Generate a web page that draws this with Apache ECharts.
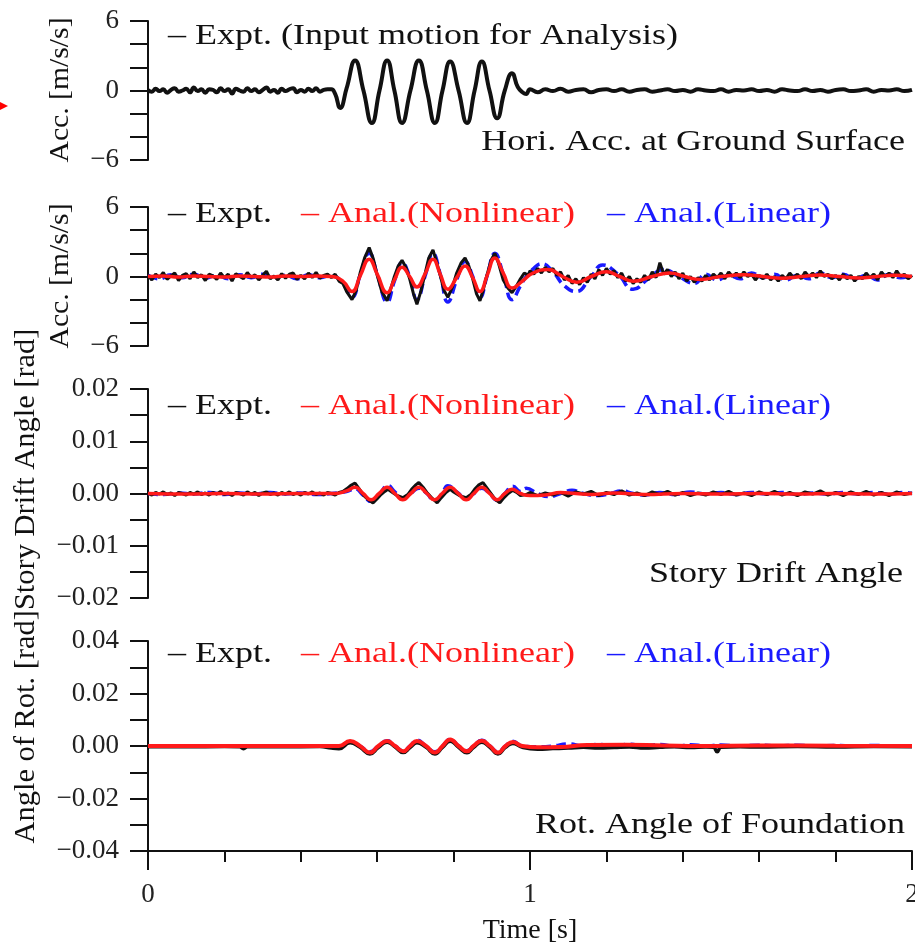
<!DOCTYPE html>
<html>
<head>
<meta charset="utf-8">
<script src="https://cdn.jsdelivr.net/npm/echarts@6/dist/echarts.min.js"></script>
<style>
html,body{margin:0;padding:0;background:#fff;}
#chart{width:915px;height:945px;}
</style>
</head>
<body>
<div id="chart"></div>
<script>
// ---------- DATA ----------
// Panel 1: Horizontal acceleration at ground surface [m/s/s]
const accGround = [
[0,0.05],[0.01,-0.10],[0.02,0.15],[0.03,-0.05],[0.04,0.10],[0.05,-0.20],[0.06,0.05],[0.07,0.20],[0.08,-0.10],[0.09,0.00],
[0.10,0.15],[0.11,-0.15],[0.12,0.25],[0.13,-0.05],[0.14,0.10],[0.15,-0.20],[0.16,0.10],[0.17,0.05],[0.18,-0.15],[0.19,0.20],
[0.20,-0.05],[0.21,0.10],[0.22,-0.25],[0.23,0.15],[0.24,0.00],[0.25,-0.10],[0.26,0.20],[0.27,-0.05],[0.28,0.10],[0.29,-0.15],
[0.30,0.05],[0.31,0.25],[0.32,-0.10],[0.33,0.05],[0.34,-0.20],[0.35,0.15],[0.36,-0.05],[0.37,0.10],[0.38,0.20],[0.39,-0.15],
[0.40,0.05],[0.41,-0.10],[0.42,0.15],[0.43,-0.05],[0.44,0.20],[0.45,-0.10],[0.46,0.05],[0.47,0.10],
[0.48,0.1],[0.49,-0.3],[0.503,-1.5],[0.52,0.2],[0.542,2.6],[0.564,0.0],[0.586,-2.8],[0.606,0.0],[0.626,2.6],[0.645,0.0],
[0.665,-2.8],[0.687,0.0],[0.709,2.6],[0.730,0.0],[0.751,-2.8],[0.771,0.0],[0.791,2.5],[0.813,0.0],[0.835,-2.8],[0.855,0.0],
[0.874,2.5],[0.894,0.0],[0.914,-2.4],[0.934,0.0],[0.953,1.5],[0.968,0.3],[0.982,-0.2],[0.99,-0.3],[1.00,0.1],
[1.02,-0.15],[1.04,0.10],[1.06,-0.05],[1.08,0.15],[1.10,-0.10],[1.12,0.05],[1.14,0.10],[1.16,-0.15],[1.18,0.05],[1.20,0.10],
[1.22,-0.05],[1.24,0.10],[1.26,-0.10],[1.28,0.05],[1.30,0.10],[1.32,-0.10],[1.34,0.00],[1.36,0.10],[1.38,-0.05],[1.40,0.05],
[1.42,-0.10],[1.44,0.10],[1.46,0.00],[1.48,-0.05],[1.50,0.10],[1.52,-0.10],[1.54,0.05],[1.56,0.00],[1.58,0.10],[1.60,-0.05],
[1.62,0.05],[1.64,-0.10],[1.66,0.10],[1.68,0.00],[1.70,-0.05],[1.72,0.10],[1.74,-0.05],[1.76,0.05],[1.78,-0.10],[1.80,0.05],
[1.82,0.10],[1.84,-0.05],[1.86,0.00],[1.88,0.10],[1.90,-0.10],[1.92,0.05],[1.94,0.00],[1.96,0.10],[1.98,-0.05],[2.00,0.05]
];

// Panel 2: Acceleration response [m/s/s]
const accExpt = [
[0,0.1],[0.01,-0.3],[0.02,0.2],[0.03,-0.1],[0.04,0.35],[0.05,-0.25],[0.06,0.05],[0.07,0.3],[0.08,-0.35],[0.09,0.1],
[0.10,0.25],[0.11,-0.2],[0.12,0.4],[0.13,-0.1],[0.14,0.15],[0.15,-0.35],[0.16,0.2],[0.17,0.05],[0.18,-0.25],[0.19,0.3],
[0.20,-0.1],[0.21,0.2],[0.22,-0.4],[0.23,0.25],[0.24,0.0],[0.25,-0.2],[0.26,0.35],[0.27,-0.1],[0.28,0.15],[0.29,-0.3],
[0.30,0.1],[0.31,0.45],[0.32,-0.2],[0.33,0.05],[0.34,-0.3],[0.35,0.25],[0.36,-0.15],[0.37,0.2],[0.38,0.3],[0.39,-0.25],
[0.40,0.1],[0.41,-0.2],[0.42,0.3],[0.43,-0.1],[0.44,0.35],[0.45,-0.15],[0.46,0.1],[0.47,0.2],
[0.48,-0.1],[0.49,0.2],[0.50,-0.4],[0.51,-0.6],[0.52,-1.3],[0.534,-2.0],[0.545,-1.2],[0.556,0.4],[0.567,1.6],[0.579,2.5],
[0.59,1.5],[0.60,0.1],[0.612,-1.3],[0.626,-2.1],[0.636,-1.0],[0.645,0.0],[0.655,0.9],[0.665,1.4],[0.675,0.8],[0.685,-0.2],
[0.695,-1.5],[0.704,-2.4],[0.715,-1.2],[0.725,0.2],[0.735,1.6],[0.746,2.3],[0.756,1.2],[0.765,0.1],[0.775,-1.2],[0.785,-1.8],
[0.797,-0.9],[0.808,0.3],[0.82,1.2],[0.830,1.6],[0.84,0.9],[0.850,-0.2],[0.86,-1.5],[0.869,-2.1],[0.878,-1.1],[0.888,0.2],
[0.898,1.4],[0.908,2.0],[0.918,1.1],[0.930,-0.3],[0.942,-1.0],[0.953,-1.4],[0.965,-0.8],[0.975,-0.2],[0.985,0.3],[0.995,0.1],
[1.00,0.5],[1.01,0.2],[1.02,0.7],[1.03,0.3],[1.04,0.8],[1.05,0.4],[1.06,0.7],[1.07,0.1],[1.08,0.4],[1.09,-0.3],
[1.10,0.1],[1.11,-0.6],[1.12,-0.2],[1.13,-0.7],[1.14,-0.1],[1.15,-0.5],[1.16,0.2],[1.17,-0.2],[1.18,0.6],[1.19,0.1],
[1.20,0.7],[1.21,0.2],[1.22,0.5],[1.23,-0.1],[1.24,0.3],[1.25,-0.4],[1.26,0.0],[1.27,-0.6],[1.28,-0.2],[1.29,-0.5],
[1.30,0.1],[1.31,-0.3],[1.32,0.4],[1.33,-0.1],[1.34,1.2],[1.35,0.2],[1.36,0.6],[1.37,0.0],[1.38,0.4],[1.39,-0.2],
[1.40,0.3],[1.41,-0.4],[1.42,0.0],[1.43,-0.5],[1.44,-0.1],[1.45,-0.4],[1.46,0.1],[1.47,-0.3],[1.48,0.2],[1.49,-0.1],
[1.50,0.3],[1.51,-0.2],[1.52,0.4],[1.53,0.0],[1.54,0.3],[1.55,-0.1],[1.56,0.4],[1.57,0.0],[1.58,0.2],[1.59,-0.3],
[1.60,0.1],[1.61,-0.2],[1.62,0.2],[1.63,-0.3],[1.64,0.0],[1.65,-0.4],[1.66,0.1],[1.67,-0.2],[1.68,0.3],[1.69,-0.1],
[1.70,0.2],[1.71,-0.2],[1.72,0.4],[1.73,0.0],[1.74,0.3],[1.75,-0.1],[1.76,0.5],[1.77,0.0],[1.78,0.2],[1.79,-0.2],
[1.80,0.1],[1.81,-0.3],[1.82,0.2],[1.83,-0.2],[1.84,0.1],[1.85,-0.4],[1.86,0.0],[1.87,-0.2],[1.88,0.3],[1.89,-0.1],
[1.90,0.2],[1.91,-0.3],[1.92,0.4],[1.93,0.0],[1.94,0.3],[1.95,-0.1],[1.96,0.5],[1.97,0.0],[1.98,0.2],[1.99,-0.2],[2.00,0.1]
];
const accNonlin = [
[0,0.0],[0.04,0.05],[0.08,-0.05],[0.12,0.05],[0.16,0.0],[0.20,-0.05],[0.24,0.05],[0.28,0.0],[0.32,-0.05],[0.36,0.05],
[0.40,0.0],[0.44,0.05],[0.48,0.0],[0.51,-0.4],[0.534,-1.3],[0.556,0.1],[0.579,1.5],[0.60,0.2],[0.626,-1.4],[0.645,-0.3],
[0.665,0.8],[0.685,0.0],[0.704,-0.9],[0.725,0.2],[0.746,1.5],[0.765,0.2],[0.785,-1.1],[0.808,-0.1],[0.830,0.9],[0.850,-0.1],
[0.869,-1.3],[0.888,0.1],[0.908,1.6],[0.930,0.3],[0.953,-1.0],[0.98,-0.4],[1.008,0.3],[1.047,0.6],[1.085,0.0],[1.123,-0.5],
[1.16,0.0],[1.20,0.4],[1.235,0.0],[1.27,-0.4],[1.32,0.0],[1.366,0.3],[1.405,0.0],[1.445,-0.25],[1.50,0.0],[1.56,0.15],
[1.61,0.0],[1.66,-0.15],[1.71,0.0],[1.76,0.12],[1.81,0.0],[1.86,-0.12],[1.91,0.0],[1.95,0.1],[2.00,0.0]
];
const accLin = [
[0,0.1],[0.03,-0.2],[0.06,0.15],[0.09,-0.1],[0.12,0.2],[0.15,-0.15],[0.18,0.1],[0.21,-0.2],[0.24,0.15],[0.27,-0.1],
[0.30,0.2],[0.33,-0.15],[0.36,0.1],[0.39,-0.2],[0.42,0.15],[0.45,-0.1],[0.48,0.1],
[0.51,-0.6],[0.534,-1.8],[0.556,0.2],[0.579,2.0],[0.60,0.2],[0.626,-2.2],[0.645,-0.4],[0.665,1.2],[0.685,0.0],
[0.704,-2.0],[0.725,0.0],[0.746,2.0],[0.765,0.2],[0.785,-2.2],[0.808,-0.3],[0.830,1.3],[0.850,0.0],[0.869,-1.8],[0.888,0.1],
[0.908,2.0],[0.930,0.2],[0.953,-2.0],[0.975,-0.8],[0.99,0.0],[1.01,0.7],[1.03,1.1],[1.06,0.4],[1.09,-0.8],[1.12,-1.3],
[1.16,0.0],[1.19,1.0],[1.23,0.2],[1.27,-1.1],[1.31,-0.2],[1.35,0.6],[1.39,0.0],[1.43,-0.6],
[1.46,0.2],[1.49,-0.3],[1.52,0.1],[1.55,-0.2],[1.58,0.3],[1.61,-0.1],[1.64,0.2],[1.67,-0.3],[1.70,0.1],[1.73,-0.2],
[1.76,0.3],[1.79,-0.1],[1.82,0.2],[1.85,-0.2],[1.88,0.1],[1.91,-0.3],[1.94,0.2],[1.97,-0.1],[2.00,0.1]
];

// Panel 3: Story drift angle [rad]
const driftExpt = [
[0,0.0001],[0.01,-0.0003],[0.02,0.0002],[0.03,-0.0001],[0.04,0.0003],[0.05,-0.0002],[0.06,0.0001],[0.07,-0.0004],[0.08,0.0002],[0.09,0.0000],
[0.10,-0.0003],[0.11,0.0002],[0.12,-0.0001],[0.13,0.0003],[0.14,-0.0002],[0.15,0.0001],[0.16,-0.0003],[0.17,0.0002],[0.18,-0.0001],[0.19,0.0004],
[0.20,-0.0002],[0.21,0.0001],[0.22,-0.0004],[0.23,0.0002],[0.24,0.0000],[0.25,-0.0003],[0.26,0.0003],[0.27,-0.0001],[0.28,0.0002],[0.29,-0.0004],
[0.30,0.0001],[0.31,0.0003],[0.32,-0.0002],[0.33,0.0001],[0.34,-0.0003],[0.35,0.0002],[0.36,-0.0001],[0.37,0.0003],[0.38,-0.0002],[0.39,0.0001],
[0.40,-0.0003],[0.41,0.0002],[0.42,-0.0001],[0.43,0.0003],[0.44,-0.0002],[0.45,0.0001],[0.46,-0.0003],[0.47,0.0002],
[0.48,0.0000],[0.49,-0.0003],[0.50,0.0002],[0.51,0.0004],[0.52,0.0009],[0.53,0.0015],[0.542,0.0020],[0.552,0.0010],[0.565,-0.0004],[0.577,-0.0012],
[0.589,-0.0018],[0.60,-0.0010],[0.61,-0.0002],[0.62,0.0004],[0.628,0.0008],[0.64,0.0002],[0.65,-0.0003],[0.667,-0.0008],[0.68,-0.0002],[0.69,0.0008],
[0.70,0.0016],[0.709,0.0021],[0.72,0.0012],[0.73,0.0002],[0.745,-0.0010],[0.757,-0.0018],[0.768,-0.0008],[0.78,0.0002],[0.791,0.0008],[0.80,0.0003],
[0.815,-0.0004],[0.833,-0.0008],[0.845,-0.0002],[0.855,0.0008],[0.865,0.0016],[0.877,0.0021],[0.888,0.0010],[0.90,-0.0002],[0.91,-0.0012],[0.921,-0.0018],
[0.932,-0.0008],[0.943,0.0000],[0.955,0.0006],[0.965,0.0002],[0.975,-0.0004],[0.99,-0.0002],
[1.00,0.0002],[1.02,-0.0004],[1.04,0.0001],[1.06,-0.0003],[1.08,0.0002],[1.10,-0.0005],[1.12,0.0003],[1.14,-0.0001],[1.16,0.0004],[1.18,-0.0004],
[1.20,0.0002],[1.22,-0.0002],[1.24,0.0005],[1.26,-0.0003],[1.28,0.0001],[1.30,-0.0004],[1.32,0.0003],[1.34,-0.0002],[1.36,0.0004],[1.38,-0.0003],
[1.40,0.0002],[1.42,-0.0004],[1.44,0.0001],[1.46,-0.0003],[1.48,0.0003],[1.50,-0.0002],[1.52,0.0004],[1.54,-0.0003],[1.56,0.0001],[1.58,-0.0004],
[1.60,0.0003],[1.62,-0.0002],[1.64,0.0004],[1.66,-0.0003],[1.68,0.0002],[1.70,-0.0004],[1.72,0.0003],[1.74,-0.0001],[1.76,0.0005],[1.78,-0.0003],
[1.80,0.0002],[1.82,-0.0004],[1.84,0.0003],[1.86,-0.0002],[1.88,0.0004],[1.90,-0.0003],[1.92,0.0002],[1.94,-0.0004],[1.96,0.0003],[1.98,-0.0002],[2.00,0.0001]
];
const driftNonlin = [
[0,0.0],[0.1,-0.0001],[0.2,0.0],[0.3,-0.0001],[0.4,0.0],[0.49,0.0],[0.52,0.0005],[0.542,0.0012],[0.563,0.0],[0.584,-0.0012],
[0.605,0.0],[0.626,0.0012],[0.646,0.0],[0.667,-0.0012],[0.688,0.0],[0.709,0.0012],[0.73,0.0],[0.75,-0.0012],[0.77,0.0],[0.791,0.0012],
[0.812,0.0],[0.833,-0.0012],[0.853,0.0],[0.874,0.0012],[0.894,0.0],[0.914,-0.0012],[0.934,0.0],[0.953,0.0008],[0.975,0.0],[1.0,-0.0004],
[1.04,-0.0003],[1.08,0.0002],[1.12,0.0],[1.16,-0.0002],[1.22,0.0001],[1.30,-0.0002],[1.40,0.0],[1.50,-0.0001],[1.60,0.0],[1.70,-0.0001],
[1.80,0.0],[1.90,-0.0001],[2.0,0.0]
];
const driftLin = [
[0,0.0],[0.04,-0.0002],[0.08,0.0001],[0.12,-0.0001],[0.16,0.0002],[0.20,-0.0002],[0.24,0.0001],[0.28,-0.0001],[0.32,0.0002],[0.36,-0.0001],
[0.40,0.0001],[0.44,-0.0002],[0.48,0.0],[0.52,0.0004],[0.542,0.0009],[0.563,-0.0003],[0.584,-0.0015],[0.605,-0.0002],[0.628,0.0015],[0.646,0.0003],
[0.667,-0.0010],[0.688,0.0],[0.709,0.0010],[0.73,0.0],[0.75,-0.0014],[0.77,0.0],[0.785,0.0015],[0.81,0.0002],[0.833,-0.0010],[0.853,0.0],
[0.874,0.0010],[0.894,0.0],[0.914,-0.0013],[0.934,0.0],[0.955,0.0014],[0.975,0.0004],[0.99,0.0010],[1.02,0.0],[1.05,-0.0006],[1.08,0.0],
[1.11,0.0006],[1.14,0.0],[1.18,-0.0004],[1.21,0.0],[1.24,0.0005],[1.27,0.0],[1.30,-0.0003],[1.34,0.0002],[1.38,-0.0002],[1.42,0.0003],
[1.46,-0.0001],[1.50,0.0002],[1.54,-0.0002],[1.58,0.0002],[1.62,-0.0001],[1.66,0.0002],[1.70,-0.0002],[1.74,0.0001],[1.78,-0.0001],[1.82,0.0002],
[1.86,-0.0001],[1.90,0.0002],[1.94,-0.0001],[1.98,0.0002],[2.0,0.0]
];

// Panel 4: Rotation angle of foundation [rad]
const rotExpt = [
[0,-0.0003],[0.10,-0.0003],[0.20,-0.0002],[0.24,-0.0003],[0.25,-0.0010],[0.26,-0.0003],[0.35,-0.0003],[0.45,-0.0002],[0.48,-0.0008],[0.50,-0.0010],
[0.529,0.0012],[0.555,-0.0005],[0.581,-0.0030],[0.603,-0.0006],[0.626,0.0014],[0.647,-0.0004],[0.668,-0.0025],[0.686,-0.0006],[0.704,0.0012],[0.728,-0.0005],
[0.751,-0.0030],[0.771,-0.0005],[0.791,0.0018],[0.813,-0.0005],[0.835,-0.0026],[0.852,-0.0006],[0.874,0.0014],[0.895,-0.0005],[0.916,-0.0030],[0.936,-0.0005],
[0.955,0.0010],[0.98,-0.0005],[1.02,-0.0012],[1.06,-0.0010],[1.10,-0.0008],[1.14,-0.0005],[1.18,-0.0008],[1.22,-0.0006],[1.26,-0.0004],[1.30,-0.0008],
[1.34,-0.0005],[1.38,-0.0003],[1.42,-0.0006],[1.46,-0.0004],[1.48,-0.0005],[1.49,-0.0022],[1.50,-0.0005],[1.55,-0.0003],[1.60,-0.0004],[1.70,-0.0002],
[1.80,-0.0004],[1.90,-0.0002],[2.0,-0.0003]
];
const rotNonlin = [
[0,0.0],[0.48,0.0],[0.50,0.0],[0.529,0.0019],[0.555,0.0],[0.581,-0.0025],[0.603,0.0],[0.626,0.0019],[0.647,0.0],[0.668,-0.0020],
[0.686,0.0],[0.704,0.0019],[0.728,0.0],[0.751,-0.0025],[0.771,0.0],[0.791,0.0025],[0.813,0.0],[0.835,-0.0020],[0.852,0.0],[0.874,0.0020],
[0.895,0.0],[0.916,-0.0025],[0.936,0.0],[0.955,0.0015],[0.98,0.0],[1.02,-0.0005],[1.08,-0.0004],[1.15,0.0004],[1.25,0.0005],[1.35,0.0002],
[1.45,0.0],[1.6,0.0002],[1.8,0.0001],[2.0,0.0]
];
const rotLin = [
[0,0.0],[0.48,0.0],[0.50,0.0],[0.529,0.0015],[0.555,0.0],[0.581,-0.0022],[0.603,0.0],[0.626,0.0020],[0.647,0.0],[0.668,-0.0018],
[0.686,0.0],[0.704,0.0022],[0.728,0.0],[0.751,-0.0022],[0.771,0.0],[0.791,0.0026],[0.813,0.0],[0.835,-0.0018],[0.852,0.0],[0.874,0.0022],
[0.895,0.0],[0.916,-0.0022],[0.936,0.0],[0.955,0.0018],[0.98,0.0],[1.02,-0.0003],[1.06,0.0],[1.10,0.0008],[1.14,0.0],[1.18,0.0006],
[1.22,-0.0002],[1.26,0.0007],[1.30,0.0],[1.34,0.0006],[1.38,-0.0002],[1.42,0.0005],[1.46,0.0],[1.50,0.0004],[1.55,0.0],[1.60,0.0003],
[1.65,0.0],[1.70,0.0003],[1.75,0.0],[1.80,0.0002],[1.85,0.0],[1.90,0.0002],[1.95,0.0],[2.0,0.0]
];

// Axis ranges and labels
const accRange = [-6, 6, 2];
const accLabels = [6, 0, -6];
const driftRange = [-0.02, 0.02, 0.005];
const rotRange = [-0.04, 0.04, 0.01];
const timeRange = [0, 2];

const legendExpt = '– Expt.';
const legendNonlin = '– Anal.(Nonlinear)';
const legendLin = '– Anal.(Linear)';

// ---------- CHART ----------
const FONT = '"Liberation Serif", "Times New Roman", serif';
const BLACK = '#111';
const RED = '#ff1a1a';
const BLUE = '#1a1aff';

const chart = echarts.init(document.getElementById('chart'), null, {renderer: 'canvas'});

function fmtFixed(step) {
  return function (v) {
    const k = Math.round(v * 1000);
    if (k % step !== 0) return '';
    const s = (Math.abs(k) / 1000).toFixed(2);
    return k < 0 ? '\u2212' + s : s;
  };
}
function fmtAcc(v) {
  const r = Math.round(v);
  if (accLabels.indexOf(r) < 0) return '';
  return r < 0 ? '\u2212' + Math.abs(r) : String(r);
}

function yAxis(idx, range, formatter) {
  return {
    type: 'value', gridIndex: idx, min: range[0], max: range[1], interval: range[2],
    axisLine: {show: true, onZero: false, lineStyle: {color: BLACK, width: 2}},
    axisTick: {show: true, inside: false, length: 18, lineStyle: {color: BLACK, width: 2}},
    axisLabel: {show: true, formatter: formatter, fontFamily: FONT, fontSize: 27, color: '#222', margin: 29, showMinLabel: true, showMaxLabel: true, hideOverlap: false},
    splitLine: {show: false}
  };
}
function xAxis(idx, visible) {
  return {
    type: 'value', gridIndex: idx, min: timeRange[0], max: timeRange[1], interval: 1,
    show: visible,
    axisLine: {show: true, onZero: false, lineStyle: {color: BLACK, width: 2}},
    axisTick: {show: true, length: 19, lineStyle: {color: BLACK, width: 2}},
    minorTick: {show: true, splitNumber: 5, length: 11, lineStyle: {color: BLACK, width: 2}},
    axisLabel: {fontFamily: FONT, fontSize: 27, color: '#222', margin: 30, showMinLabel: true, showMaxLabel: true},
    splitLine: {show: false}, minorSplitLine: {show: false}
  };
}
function line(idx, data, color, width, opts) {
  opts = opts || {};
  return {
    type: 'line', xAxisIndex: idx, yAxisIndex: idx, data: data,
    showSymbol: false, symbol: 'none', smooth: opts.smooth === undefined ? true : opts.smooth,
    lineStyle: {color: color, width: width, type: opts.dash || 'solid'},
    z: opts.z || 2, silent: true
  };
}
function txt(x, y, text, color, opts) {
  opts = opts || {};
  return {
    type: 'text', x: x, y: y, rotation: opts.rotation || 0, scaleX: opts.scaleX || 1, z: 50,
    style: {
      text: text, fill: color, font: (opts.size || 30) + 'px ' + FONT,
      textAlign: opts.align || 'left', align: opts.align || 'left',
      textVerticalAlign: 'middle', verticalAlign: 'middle'
    }
  };
}

const SX = 1.2;
const legendRow = function (y) {
  return [
    txt(168, y, legendExpt, BLACK, {scaleX: SX}),
    txt(301, y, legendNonlin, RED, {scaleX: SX}),
    txt(607, y, legendLin, BLUE, {scaleX: SX})
  ];
};

function grid(top, height) {
  return {left: 148, width: 764, top: top, height: height, containLabel: false, outerBoundsMode: 'none'};
}

const option = {
  animation: false,
  backgroundColor: '#fff',
  grid: [grid(21, 139), grid(207, 139), grid(389, 209), grid(641, 210)],
  xAxis: [xAxis(0, false), xAxis(1, false), xAxis(2, false), xAxis(3, true)],
  yAxis: [
    yAxis(0, accRange, fmtAcc),
    yAxis(1, accRange, fmtAcc),
    yAxis(2, driftRange, fmtFixed(10)),
    yAxis(3, rotRange, fmtFixed(20))
  ],
  series: [
    line(0, accGround, BLACK, 4),
    line(1, accLin, BLUE, 3.5, {dash: [10, 5]}),
    line(1, accExpt, BLACK, 3, {smooth: false}),
    line(1, accNonlin, RED, 3.5),
    line(2, driftLin, BLUE, 3.5, {dash: [10, 5]}),
    line(2, driftExpt, BLACK, 3, {smooth: false}),
    line(2, driftNonlin, RED, 3.5),
    line(3, rotLin, BLUE, 3.5, {dash: [10, 5]}),
    line(3, rotExpt, BLACK, 3.5),
    line(3, rotNonlin, RED, 4)
  ],
  graphic: [
    txt(168, 36, '– Expt. (Input motion for Analysis)', BLACK, {scaleX: SX}),
    txt(905, 142, 'Hori. Acc. at Ground Surface', BLACK, {scaleX: SX, align: 'right'}),
    ...legendRow(214),
    ...legendRow(406),
    ...legendRow(654),
    txt(903, 574, 'Story Drift Angle', BLACK, {scaleX: SX, align: 'right'}),
    txt(905, 825, 'Rot. Angle of Foundation', BLACK, {scaleX: SX, align: 'right'}),
    txt(61, 90, 'Acc. [m/s/s]', BLACK, {size: 28, align: 'center', rotation: Math.PI / 2, scaleX: 1.06}),
    txt(61, 276, 'Acc. [m/s/s]', BLACK, {size: 28, align: 'center', rotation: Math.PI / 2, scaleX: 1.06}),
    txt(26, 586, 'Angle of Rot. [rad]Story Drift Angle [rad]', BLACK, {size: 29, align: 'center', rotation: Math.PI / 2, scaleX: 1.05}),
    txt(530, 931, 'Time [s]', BLACK, {size: 28, align: 'center'}),
    {type: 'polygon', z: 50, shape: {points: [[0, 102], [8, 106], [0, 110]]}, style: {fill: '#ff0000'}}
  ]
};
chart.setOption(option);
</script>
</body>
</html>
